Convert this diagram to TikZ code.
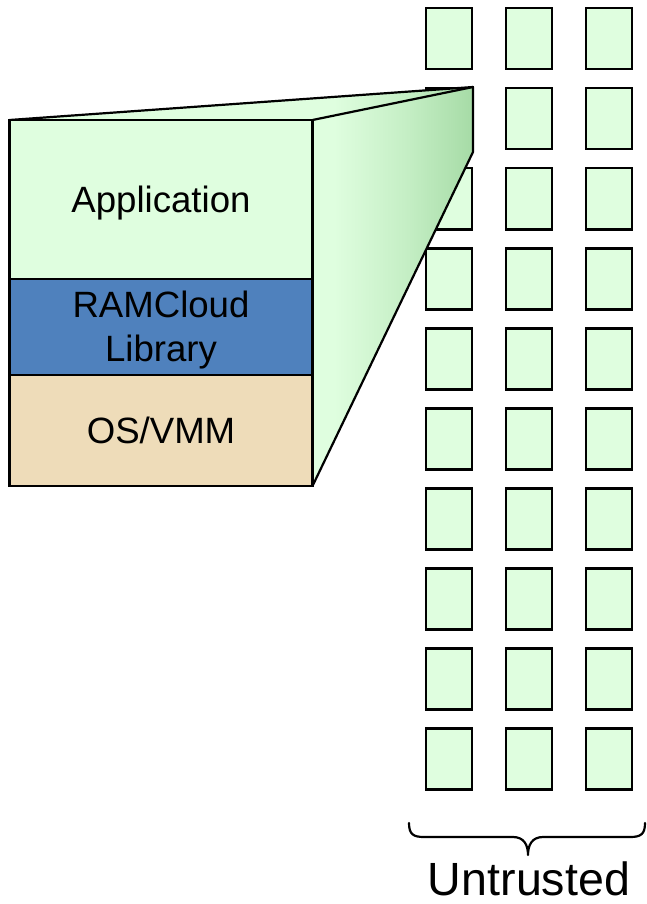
\documentclass[tikz,border=0pt]{standalone}
\usepackage{fontspec}
\setmainfont{Liberation Sans}
\definecolor{lgreen}{HTML}{DFFEDF}
\definecolor{mgreen}{HTML}{C4EEC4}
\definecolor{dgreen}{HTML}{A6DBA6}
\definecolor{ramblue}{HTML}{4F81BD}
\definecolor{ostan}{HTML}{EEDCB9}
\pgfdeclarehorizontalshading{sideface}{100bp}{color(0bp)=(lgreen); color(60bp)=(lgreen); color(68bp)=(mgreen); color(75bp)=(dgreen); color(100bp)=(dgreen)}
\tikzset{
  cell/.style={draw=black, line width=2.6pt, fill=lgreen, minimum width=46pt, minimum height=61pt, inner sep=0pt},
  layer/.style={draw=black, line width=2.2pt},
  lbl/.style={inner sep=0pt, align=center, font=\fontsize{36.6}{44}\selectfont},
  edge/.style={draw=black, line width=2.2pt, line join=round}
}
\begin{document}
\begin{tikzpicture}[x=1pt, y=-1pt]
\useasboundingbox (0,0) rectangle (646,904);
% grid of machines
\foreach \c in {0,1,2} {
  \foreach \r in {0,...,9} {
    \node[cell] (c\c r\r) at ({448.8+80*\c}, {38.7+80*\r}) {};
  }
}
% projection
\coordinate (tl) at (9.5,120);
\coordinate (tr) at (312.5,120);
\coordinate (br) at (312.5,486);
\coordinate (bl) at (9.5,486);
\coordinate (pa) at (473,87);
\coordinate (pb) at (473,152);
\fill[shading=sideface] (tl) -- (pa) -- (pb) -- (br) -- (tr) -- cycle;
\draw[edge] (tl) -- (pa) -- (pb) -- (br);
\draw[edge] (tr) -- (pa);
% stack layers
\coordinate (d1l) at (9.5,279);
\coordinate (d1r) at (312.5,279);
\coordinate (d2l) at (9.5,375);
\coordinate (d2r) at (312.5,375);
\filldraw[layer, fill=lgreen] (tl) rectangle (d1r);
\filldraw[layer, fill=ramblue] (d1l) rectangle (d2r);
\filldraw[layer, fill=ostan] (d2l) rectangle (br);
\node[lbl] (app) at (161,203.5) {Application};
\node[lbl] (ram) at (161,330.5) {RAMCloud\\Library};
\node[lbl] (os) at (161,430.5) {OS/VMM};
% brace
\coordinate (b0) at (409,823);
\coordinate (b1) at (645,823);
\draw[line width=2.2pt, line cap=round, line join=round]
  (b0) .. controls (409,834) and (413,837) .. (424,837) -- (513,837)
  .. controls (524,837) and (528,845) .. (528,855)
  .. controls (528,845) and (532,837) .. (543,837) -- (630,837)
  .. controls (641,837) and (645,834) .. (b1);
\node[inner sep=0pt, anchor=base, font=\fontsize{46.6}{56}\selectfont] (untr) at (529,895) {Untrusted};
\end{tikzpicture}
\end{document}
